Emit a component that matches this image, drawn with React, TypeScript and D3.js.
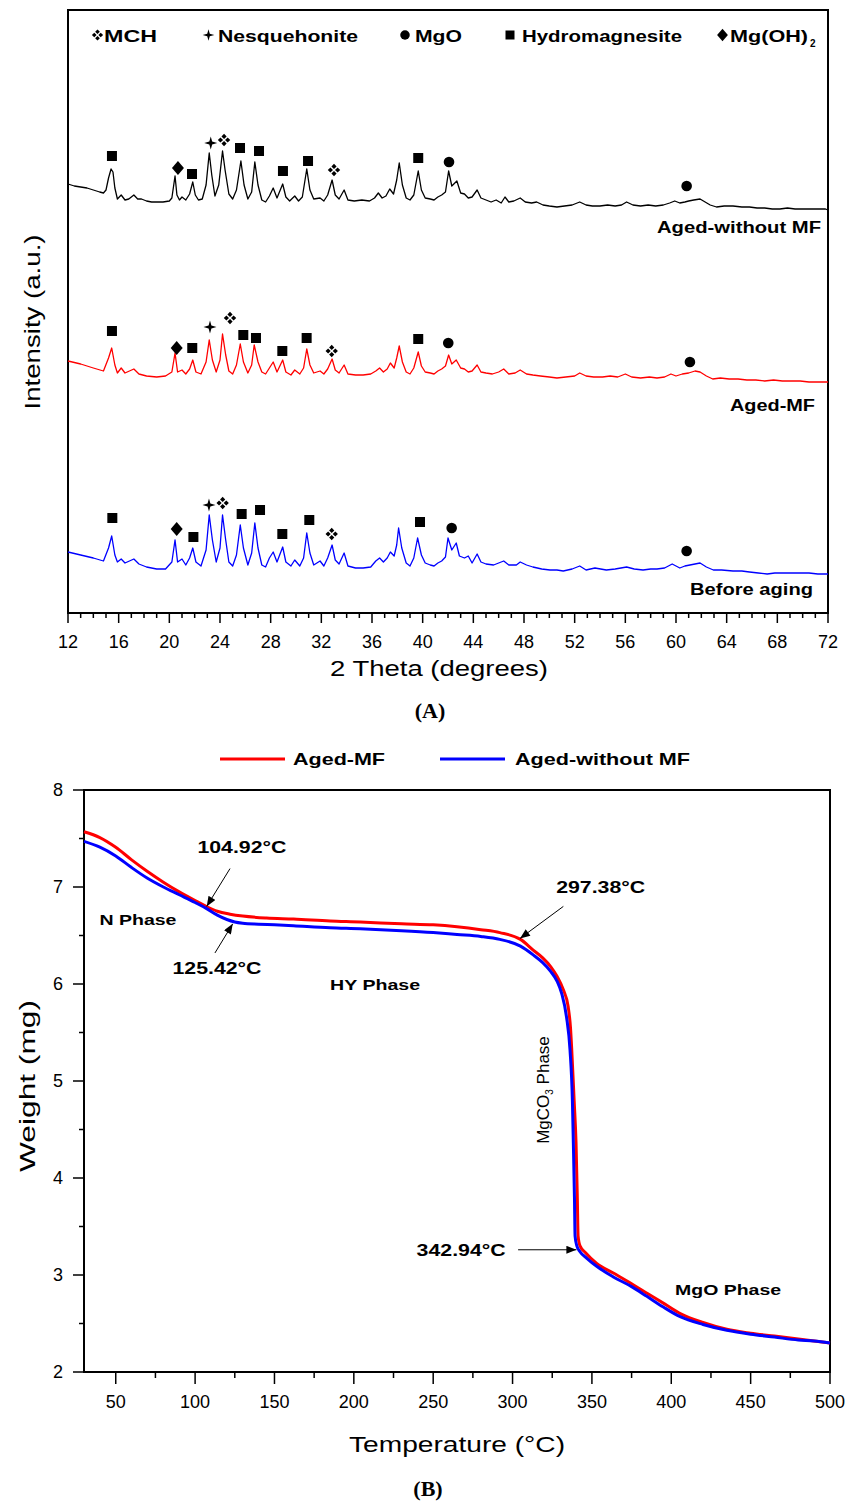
import React from 'react';
import * as d3 from 'd3';

// ================= Panel A: XRD =================
const thetaTicks = [12, 16, 20, 24, 28, 32, 36, 40, 44, 48, 52, 56, 60, 64, 68, 72];

// [2θ (deg), intensity (a.u., stacked with offset)]
const xrdAgedWithoutMF: [number, number][] = [
  [12.0, 436], [12.5, 434], [13.0, 433], [13.5, 432], [14.0, 430], [14.5, 428], [14.8, 427], [15.0, 430], [15.2, 442], [15.4, 451], [15.55, 448], [15.7, 432], [15.9, 421], [16.2, 425], [16.5, 420], [16.8, 421], [17.2, 425], [17.5, 421], [17.8, 421], [18.2, 419], [18.6, 418], [19.0, 418], [19.5, 418], [20.0, 419], [20.2, 422], [20.45, 444], [20.6, 425], [20.8, 420], [21.0, 423], [21.3, 420], [21.6, 426], [21.85, 438], [22.05, 425], [22.3, 420], [22.6, 421], [22.9, 435], [23.15, 467], [23.35, 445], [23.6, 424], [23.9, 435], [24.2, 469], [24.4, 450], [24.7, 426], [25.0, 421], [25.3, 430], [25.65, 459], [25.9, 435], [26.2, 421], [26.5, 428], [26.75, 458], [27.0, 435], [27.3, 420], [27.6, 418], [27.9, 424], [28.2, 432], [28.5, 422], [28.95, 436], [29.2, 423], [29.5, 419], [29.9, 424], [30.2, 419], [30.5, 423], [30.85, 451], [31.1, 430], [31.4, 421], [31.9, 422], [32.2, 419], [32.5, 425], [32.85, 440], [33.1, 425], [33.4, 421], [33.8, 430], [34.1, 420], [34.6, 419], [35.2, 420], [35.8, 419], [36.2, 422], [36.5, 427], [36.8, 422], [37.1, 424], [37.4, 431], [37.7, 426], [37.95, 440], [38.15, 457], [38.4, 435], [38.7, 422], [39.0, 420], [39.3, 425], [39.65, 449], [39.9, 430], [40.2, 422], [40.6, 421], [40.9, 420], [41.2, 423], [41.5, 425], [41.8, 428], [42.05, 449], [42.3, 434], [42.7, 439], [43.0, 427], [43.3, 426], [43.6, 422], [43.9, 423], [44.3, 430], [44.6, 422], [45.0, 420], [45.4, 418], [45.8, 420], [46.2, 417], [46.5, 423], [46.8, 418], [47.2, 419], [47.7, 422], [48.1, 418], [48.6, 417], [49.0, 418], [49.5, 415], [50.0, 414], [50.6, 413], [51.2, 414], [51.8, 415], [52.4, 418], [52.9, 415], [53.4, 414], [54.0, 414], [54.6, 415], [55.2, 414], [55.7, 415], [56.1, 418], [56.6, 415], [57.2, 414], [57.8, 415], [58.4, 414], [59.0, 415], [59.5, 417], [59.9, 419], [60.3, 417], [60.7, 418], [61.0, 419], [61.4, 420], [61.9, 421], [62.3, 418], [62.7, 415], [63.2, 413], [63.8, 414], [64.5, 414], [65.2, 413], [65.8, 413], [66.4, 412], [67.0, 412], [67.6, 411], [68.2, 411], [68.8, 412], [69.4, 411], [70.0, 411], [70.6, 411], [71.2, 411], [71.8, 411], [72.0, 410],
];

const xrdAgedMF: [number, number][] = [
  [12.0, 259], [13.0, 256], [14.0, 252], [14.8, 249], [15.2, 262], [15.45, 272], [15.7, 255], [15.9, 247], [16.2, 252], [16.5, 247], [17.2, 251], [17.6, 246], [18.2, 244], [19.0, 243], [19.7, 244], [20.2, 248], [20.45, 267], [20.65, 248], [21.0, 250], [21.3, 246], [21.6, 251], [21.85, 260], [22.1, 248], [22.5, 246], [22.9, 258], [23.15, 280], [23.4, 260], [23.7, 248], [24.0, 260], [24.2, 286], [24.45, 265], [24.7, 249], [25.0, 246], [25.3, 255], [25.6, 276], [25.85, 258], [26.2, 247], [26.5, 255], [26.7, 275], [27.0, 258], [27.3, 248], [27.6, 246], [27.9, 252], [28.2, 258], [28.5, 248], [28.95, 260], [29.2, 248], [29.6, 245], [29.9, 250], [30.3, 246], [30.6, 252], [30.85, 271], [31.1, 255], [31.4, 247], [31.9, 249], [32.2, 246], [32.5, 251], [32.85, 261], [33.1, 250], [33.4, 247], [33.8, 255], [34.1, 246], [34.7, 245], [35.3, 245], [35.9, 246], [36.3, 249], [36.6, 252], [36.9, 248], [37.2, 251], [37.45, 257], [37.75, 252], [37.95, 262], [38.15, 274], [38.4, 258], [38.7, 248], [39.0, 246], [39.3, 252], [39.65, 268], [39.9, 254], [40.2, 248], [40.6, 247], [40.9, 246], [41.2, 249], [41.5, 251], [41.8, 254], [42.05, 265], [42.3, 256], [42.65, 260], [43.0, 252], [43.3, 251], [43.6, 248], [43.9, 249], [44.3, 255], [44.6, 248], [45.0, 247], [45.5, 246], [46.0, 248], [46.4, 251], [46.8, 246], [47.3, 247], [47.7, 250], [48.2, 246], [48.7, 245], [49.3, 244], [50.0, 243], [50.6, 242], [51.3, 243], [52.0, 244], [52.4, 247], [52.9, 244], [53.5, 243], [54.2, 243], [54.8, 244], [55.4, 243], [56.0, 246], [56.5, 243], [57.2, 242], [57.9, 243], [58.5, 242], [59.1, 243], [59.6, 246], [60.0, 244], [60.5, 246], [61.0, 247], [61.5, 249], [61.9, 248], [62.4, 244], [62.9, 241], [63.5, 242], [64.2, 241], [64.9, 241], [65.6, 240], [66.3, 240], [67.0, 239], [67.7, 240], [68.4, 239], [69.1, 239], [69.8, 239], [70.5, 238], [71.2, 238], [72.0, 238],
];

const xrdBeforeAging: [number, number][] = [
  [12.0, 68], [13.0, 65], [14.0, 62], [14.8, 59], [15.2, 72], [15.45, 84], [15.7, 65], [15.9, 58], [16.2, 61], [16.5, 57], [17.2, 61], [17.6, 56], [18.2, 53], [19.0, 51], [19.7, 51], [20.2, 58], [20.45, 80], [20.65, 58], [21.0, 61], [21.3, 55], [21.6, 62], [21.85, 72], [22.1, 58], [22.5, 54], [22.9, 70], [23.15, 105], [23.4, 80], [23.7, 58], [24.0, 72], [24.2, 105], [24.45, 80], [24.7, 58], [25.0, 54], [25.3, 65], [25.6, 95], [25.85, 72], [26.2, 55], [26.5, 67], [26.75, 97], [27.0, 72], [27.3, 55], [27.6, 53], [27.9, 62], [28.2, 68], [28.5, 58], [28.95, 73], [29.2, 58], [29.6, 54], [29.9, 60], [30.3, 54], [30.6, 62], [30.85, 87], [31.1, 67], [31.4, 55], [31.9, 59], [32.2, 54], [32.5, 62], [32.85, 75], [33.1, 60], [33.4, 56], [33.8, 67], [34.1, 54], [34.7, 52], [35.3, 52], [35.9, 53], [36.3, 59], [36.6, 62], [36.9, 58], [37.2, 62], [37.45, 68], [37.75, 64], [37.95, 75], [38.1, 92], [38.35, 72], [38.7, 57], [39.0, 54], [39.3, 62], [39.6, 82], [39.9, 65], [40.2, 57], [40.6, 55], [40.9, 54], [41.2, 57], [41.5, 59], [41.8, 63], [42.0, 82], [42.3, 70], [42.65, 77], [42.9, 64], [43.3, 62], [43.6, 64], [43.9, 57], [44.3, 66], [44.6, 58], [45.0, 56], [45.6, 55], [46.0, 57], [46.4, 59], [46.8, 55], [47.4, 55], [47.7, 58], [48.2, 55], [48.7, 53], [49.4, 51], [50.05, 50], [50.6, 50], [51.1, 49], [51.8, 51], [52.4, 54], [52.9, 50], [53.6, 52], [54.5, 50], [55.2, 51], [56.1, 53], [56.7, 51], [57.4, 50], [58.0, 51], [58.5, 51], [59.1, 52], [59.7, 56], [60.3, 52], [60.7, 54], [61.1, 55], [61.5, 56], [61.9, 57], [62.4, 53], [62.95, 50], [63.6, 50], [64.5, 49], [65.2, 49], [65.8, 48], [66.5, 47], [67.2, 46], [67.8, 47], [68.5, 47], [69.2, 47], [69.8, 47], [70.5, 47], [71.2, 46], [72.0, 46],
];

type Phase = 'MCH' | 'Nesq' | 'MgO' | 'Hydro' | 'MgOH2';

// phase markers: [phase, 2θ, intensity]
const marksAgedWithoutMF: [Phase, number, number][] = [
  ['Hydro', 15.47, 464], ['MgOH2', 20.68, 452], ['Hydro', 21.79, 446], ['Nesq', 23.27, 477], ['MCH', 24.32, 480],
  ['Hydro', 25.58, 472], ['Hydro', 27.08, 469], ['Hydro', 28.97, 449], ['Hydro', 30.95, 459], ['MCH', 33.0, 450],
  ['Hydro', 39.65, 462], ['MgO', 42.08, 458], ['MgO', 60.84, 434],
];
const marksAgedMF: [Phase, number, number][] = [
  ['Hydro', 15.47, 289], ['MgOH2', 20.58, 272], ['Hydro', 21.81, 272], ['Nesq', 23.21, 293], ['MCH', 24.79, 302],
  ['Hydro', 25.84, 285], ['Hydro', 26.84, 282], ['Hydro', 28.92, 269], ['Hydro', 30.84, 282], ['MCH', 32.82, 269],
  ['Hydro', 39.65, 281], ['MgO', 42.02, 277], ['MgO', 61.1, 258],
];
const marksBeforeAging: [Phase, number, number][] = [
  ['Hydro', 15.5, 102], ['MgOH2', 20.58, 91], ['Hydro', 21.9, 83], ['Nesq', 23.13, 115], ['MCH', 24.21, 117],
  ['Hydro', 25.71, 106], ['Hydro', 27.16, 110], ['Hydro', 28.92, 86], ['Hydro', 31.05, 100], ['MCH', 32.82, 86],
  ['Hydro', 39.79, 98], ['MgO', 42.29, 92], ['MgO', 60.84, 69],
];

const phaseLegend: { phase: Phase; label: string }[] = [
  { phase: 'MCH', label: 'MCH' },
  { phase: 'Nesq', label: 'Nesquehonite' },
  { phase: 'MgO', label: 'MgO' },
  { phase: 'Hydro', label: 'Hydromagnesite' },
  { phase: 'MgOH2', label: 'Mg(OH)' },
];

// ================= Panel B: TGA =================
const tempTicks = [50, 100, 150, 200, 250, 300, 350, 400, 450, 500];
const weightTicks = [2, 3, 4, 5, 6, 7, 8];

// [temperature (°C), weight (mg)]
const tgaAgedMF: [number, number][] = [
  [30, 7.57], [40, 7.51], [50, 7.41], [60, 7.28], [70, 7.16], [80, 7.05], [90, 6.95], [100, 6.86], [107, 6.8], [114, 6.75],
  [122, 6.72], [130, 6.7], [145, 6.68], [162, 6.67], [185, 6.65], [204, 6.64], [230, 6.62], [250, 6.61], [265, 6.59],
  [280, 6.56], [292, 6.53], [305, 6.46], [313, 6.35], [319, 6.27], [324, 6.18], [328, 6.08], [332, 5.94], [335, 5.77],
  [336.5, 5.55], [337.3, 5.32], [338.8, 4.8], [340, 4.36], [340.8, 3.8], [341.3, 3.4], [342.5, 3.3], [346, 3.23],
  [353, 3.12], [363.5, 3.02], [375, 2.91], [385, 2.81], [396, 2.7], [406, 2.6], [420, 2.51], [435, 2.44], [450, 2.4],
  [465, 2.37], [480, 2.34], [490, 2.32], [500, 2.3],
];
const tgaAgedWithoutMF: [number, number][] = [
  [30, 7.47], [40, 7.41], [50, 7.32], [60, 7.2], [70, 7.09], [80, 7.0], [90, 6.92], [100, 6.84], [107, 6.78], [114, 6.71],
  [120, 6.665], [125, 6.64], [130, 6.627], [140, 6.617], [150, 6.61], [162, 6.6], [185, 6.58], [204, 6.57], [230, 6.55],
  [250, 6.53], [265, 6.51], [280, 6.49], [292, 6.46], [305, 6.39], [313, 6.3], [319, 6.22], [324, 6.13], [328, 6.03],
  [331, 5.9], [334, 5.66], [336.2, 5.32], [337.7, 4.8], [338.3, 4.36], [339, 3.8], [339.4, 3.4], [340.5, 3.3],
  [342.5, 3.24], [347, 3.17], [353, 3.09], [363.5, 2.98], [375, 2.88], [384.6, 2.78], [395, 2.67], [405.6, 2.57],
  [420, 2.49], [435, 2.43], [450, 2.39], [465, 2.36], [480, 2.33], [490, 2.32], [500, 2.3],
];

const FONT = 'Liberation Sans, Arial, Helvetica, sans-serif';

function Mark({ type, x, y, s = 1 }: { type: Phase; x: number; y: number; s?: number }) {
  const f = '#000';
  if (type === 'Hydro') return <rect x={x - 5 * s} y={y - 5 * s} width={10 * s} height={10 * s} fill={f} />;
  if (type === 'MgO') return <circle cx={x} cy={y} r={5.3 * s} fill={f} />;
  if (type === 'MgOH2')
    return <path d={`M${x},${y - 7 * s}L${x + 6 * s},${y}L${x},${y + 7 * s}L${x - 6 * s},${y}Z`} fill={f} />;
  if (type === 'Nesq') {
    const a = 6.5 * s, b = 1.4 * s;
    return (
      <path
        d={`M${x},${y - a}L${x + b},${y - b}L${x + a},${y}L${x + b},${y + b}L${x},${y + a}L${x - b},${y + b}L${x - a},${y}L${x - b},${y - b}Z`}
        fill={f}
      />
    );
  }
  const d = 3.6 * s, h = 2.6 * s;
  const dia = (cx: number, cy: number) => `M${cx},${cy - h}L${cx + h},${cy}L${cx},${cy + h}L${cx - h},${cy}Z`;
  return <path d={dia(x, y - d) + dia(x + d, y) + dia(x, y + d) + dia(x - d, y)} fill={f} />;
}

export default function App() {
  // ---------- A scales ----------
  const xA = d3.scaleLinear().domain([12, 72]).range([68, 828]);
  const yA = d3.scaleLinear().domain([7, 610]).range([613, 10]);
  const lineA = d3.line<[number, number]>().x((d) => xA(d[0])).y((d) => yA(d[1]));
  const minorTheta = d3.range(12, 72.01, 1);

  const xrdSeries = [
    { name: 'Aged-without MF', color: '#000000', data: xrdAgedWithoutMF, marks: marksAgedWithoutMF, lx: 821, ly: 233, len: 164 },
    { name: 'Aged-MF', color: '#ff0000', data: xrdAgedMF, marks: marksAgedMF, lx: 815, ly: 411, len: 85 },
    { name: 'Before aging', color: '#0000ff', data: xrdBeforeAging, marks: marksBeforeAging, lx: 813, ly: 595, len: 123 },
  ];
  const legendPos = [
    { mx: 97.5, tx: 104, len: 53 },
    { mx: 208.5, tx: 218, len: 140 },
    { mx: 405, tx: 415, len: 47 },
    { mx: 510, tx: 522, len: 160 },
    { mx: 722.5, tx: 730, len: 78 },
  ];

  // ---------- B scales ----------
  const xB = d3.scaleLinear().domain([30, 500]).range([84, 830]);
  const yB = d3.scaleLinear().domain([2, 8]).range([1372, 790]);
  const lineB = d3.line<[number, number]>().x((d) => xB(d[0])).y((d) => yB(d[1])).curve(d3.curveMonotoneX);
  const minorTemp = d3.range(75, 500, 50);
  const minorWeight = d3.range(2.5, 8, 1);

  const tgaSeries = [
    { name: 'Aged-MF', color: '#ff0000', data: tgaAgedMF },
    { name: 'Aged-without MF', color: '#0000ff', data: tgaAgedWithoutMF },
  ];

  const arrows = [
    { label: '104.92°C', tip: [107.3, 6.8], tail: [122, 7.19], text: [129.5, 7.41] },
    { label: '125.42°C', tip: [123.7, 6.62], tail: [112.5, 6.32], text: [113.8, 6.16] },
    { label: '297.38°C', tip: [304.7, 6.47], tail: [332, 6.8], text: [355.5, 7.0] },
    { label: '342.94°C', tip: [340.2, 3.26], tail: [303.5, 3.26], text: [267.6, 3.26] },
  ];
  const phases = [
    { label: 'N Phase', at: [64, 6.66], len: 77 },
    { label: 'HY Phase', at: [213.4, 5.99], len: 90 },
    { label: 'MgO Phase', at: [435.8, 2.85], len: 106 },
  ];

  return (
    <svg width={849} height={1501} style={{ position: 'absolute', left: 0, top: 0, background: '#fff' }} fontFamily={FONT}>
      <defs>
        <marker id="ah" viewBox="0 0 10 8" refX="10" refY="4" markerWidth="11" markerHeight="8" markerUnits="userSpaceOnUse" orient="auto">
          <path d="M0,0L10,4L0,8Z" fill="#000" />
        </marker>
      </defs>

      {/* ================= Panel A ================= */}
      <rect x={68} y={10} width={760} height={603} fill="none" stroke="#000" strokeWidth={2} />
      {minorTheta.map((t) => {
        const major = thetaTicks.includes(t);
        return <line key={'mt' + t} x1={xA(t)} x2={xA(t)} y1={613} y2={613 + (major ? 10 : 5)} stroke="#000" strokeWidth={1.5} />;
      })}
      {thetaTicks.map((t) => (
        <text key={'tl' + t} x={xA(t)} y={648} textAnchor="middle" fontSize={18}>{t}</text>
      ))}
      <text x={439} y={676} textAnchor="middle" fontSize={22} textLength={218} lengthAdjust="spacingAndGlyphs">2 Theta (degrees)</text>
      <text transform="translate(40,322) rotate(-90)" textAnchor="middle" fontSize={22} textLength={175} lengthAdjust="spacingAndGlyphs">Intensity (a.u.)</text>
      <text x={430} y={718} textAnchor="middle" fontSize={22} fontWeight="bold" fontFamily="Liberation Serif, Times New Roman, serif">(A)</text>

      {/* legend */}
      {phaseLegend.map((p, i) => (
        <g key={'lg' + i}>
          <Mark type={p.phase} x={legendPos[i].mx} y={35} s={0.9} />
          <text x={legendPos[i].tx} y={42} fontSize={16.5} fontWeight="bold" textLength={legendPos[i].len} lengthAdjust="spacingAndGlyphs">{p.label}</text>
        </g>
      ))}
      <text x={810} y={47} fontSize={10} fontWeight="bold">2</text>

      {xrdSeries.map((s) => (
        <g key={s.name}>
          <path d={lineA(s.data) || ''} fill="none" stroke={s.color} strokeWidth={1.3} strokeLinejoin="round" />
          {s.marks.map((m, i) => (
            <Mark key={i} type={m[0]} x={xA(m[1])} y={yA(m[2])} />
          ))}
          <text x={s.lx} y={s.ly} textAnchor="end" fontSize={16} fontWeight="bold" textLength={s.len} lengthAdjust="spacingAndGlyphs">{s.name}</text>
        </g>
      ))}

      {/* ================= Panel B ================= */}
      {tgaSeries.map((s, i) => {
        const lx = i === 0 ? 220 : 440;
        const tx = i === 0 ? 293 : 515;
        const len = i === 0 ? 92 : 175;
        return (
          <g key={'tl' + s.name}>
            <line x1={lx} x2={lx + 65} y1={759} y2={759} stroke={s.color} strokeWidth={3} />
            <text x={tx} y={765} fontSize={17} fontWeight="bold" textLength={len} lengthAdjust="spacingAndGlyphs">{s.name}</text>
          </g>
        );
      })}

      <rect x={84} y={790} width={746} height={582} fill="none" stroke="#000" strokeWidth={2} />
      {tempTicks.map((t) => (
        <g key={'xt' + t}>
          <line x1={xB(t)} x2={xB(t)} y1={1372} y2={1384} stroke="#000" strokeWidth={1.5} />
          <text x={xB(t)} y={1408} textAnchor="middle" fontSize={18}>{t}</text>
        </g>
      ))}
      {minorTemp.map((t) => (
        <line key={'xm' + t} x1={xB(t)} x2={xB(t)} y1={1372} y2={1378} stroke="#000" strokeWidth={1.5} />
      ))}
      {weightTicks.map((w) => (
        <g key={'yt' + w}>
          <line x1={73} x2={84} y1={yB(w)} y2={yB(w)} stroke="#000" strokeWidth={1.5} />
          <text x={63} y={yB(w) + 6} textAnchor="end" fontSize={18}>{w}</text>
        </g>
      ))}
      {minorWeight.map((w) => (
        <line key={'ym' + w} x1={79} x2={84} y1={yB(w)} y2={yB(w)} stroke="#000" strokeWidth={1.5} />
      ))}
      <text x={457} y={1452} textAnchor="middle" fontSize={22} textLength={216} lengthAdjust="spacingAndGlyphs">Temperature (°C)</text>
      <text transform="translate(35,1086) rotate(-90)" textAnchor="middle" fontSize={22} textLength={172} lengthAdjust="spacingAndGlyphs">Weight (mg)</text>
      <text x={428} y={1496} textAnchor="middle" fontSize={22} fontWeight="bold" fontFamily="Liberation Serif, Times New Roman, serif">(B)</text>

      {tgaSeries.map((s) => (
        <path key={'tg' + s.name} d={lineB(s.data) || ''} fill="none" stroke={s.color} strokeWidth={3} strokeLinejoin="round" />
      ))}

      {arrows.map((a) => (
        <g key={a.label}>
          <line x1={xB(a.tail[0])} y1={yB(a.tail[1])} x2={xB(a.tip[0])} y2={yB(a.tip[1])} stroke="#000" strokeWidth={1} markerEnd="url(#ah)" />
          <text x={xB(a.text[0])} y={yB(a.text[1]) + 6} textAnchor="middle" fontSize={17} fontWeight="bold" textLength={89} lengthAdjust="spacingAndGlyphs">{a.label}</text>
        </g>
      ))}
      {phases.map((p) => (
        <text key={p.label} x={xB(p.at[0])} y={yB(p.at[1]) + 5} textAnchor="middle" fontSize={15} fontWeight="bold" textLength={p.len} lengthAdjust="spacingAndGlyphs">{p.label}</text>
      ))}
      <text transform="translate(549,1090) rotate(-90)" textAnchor="middle" fontSize={17}>
        MgCO<tspan dy={4} fontSize={10}>3</tspan><tspan dy={-4}> Phase</tspan>
      </text>
    </svg>
  );
}
